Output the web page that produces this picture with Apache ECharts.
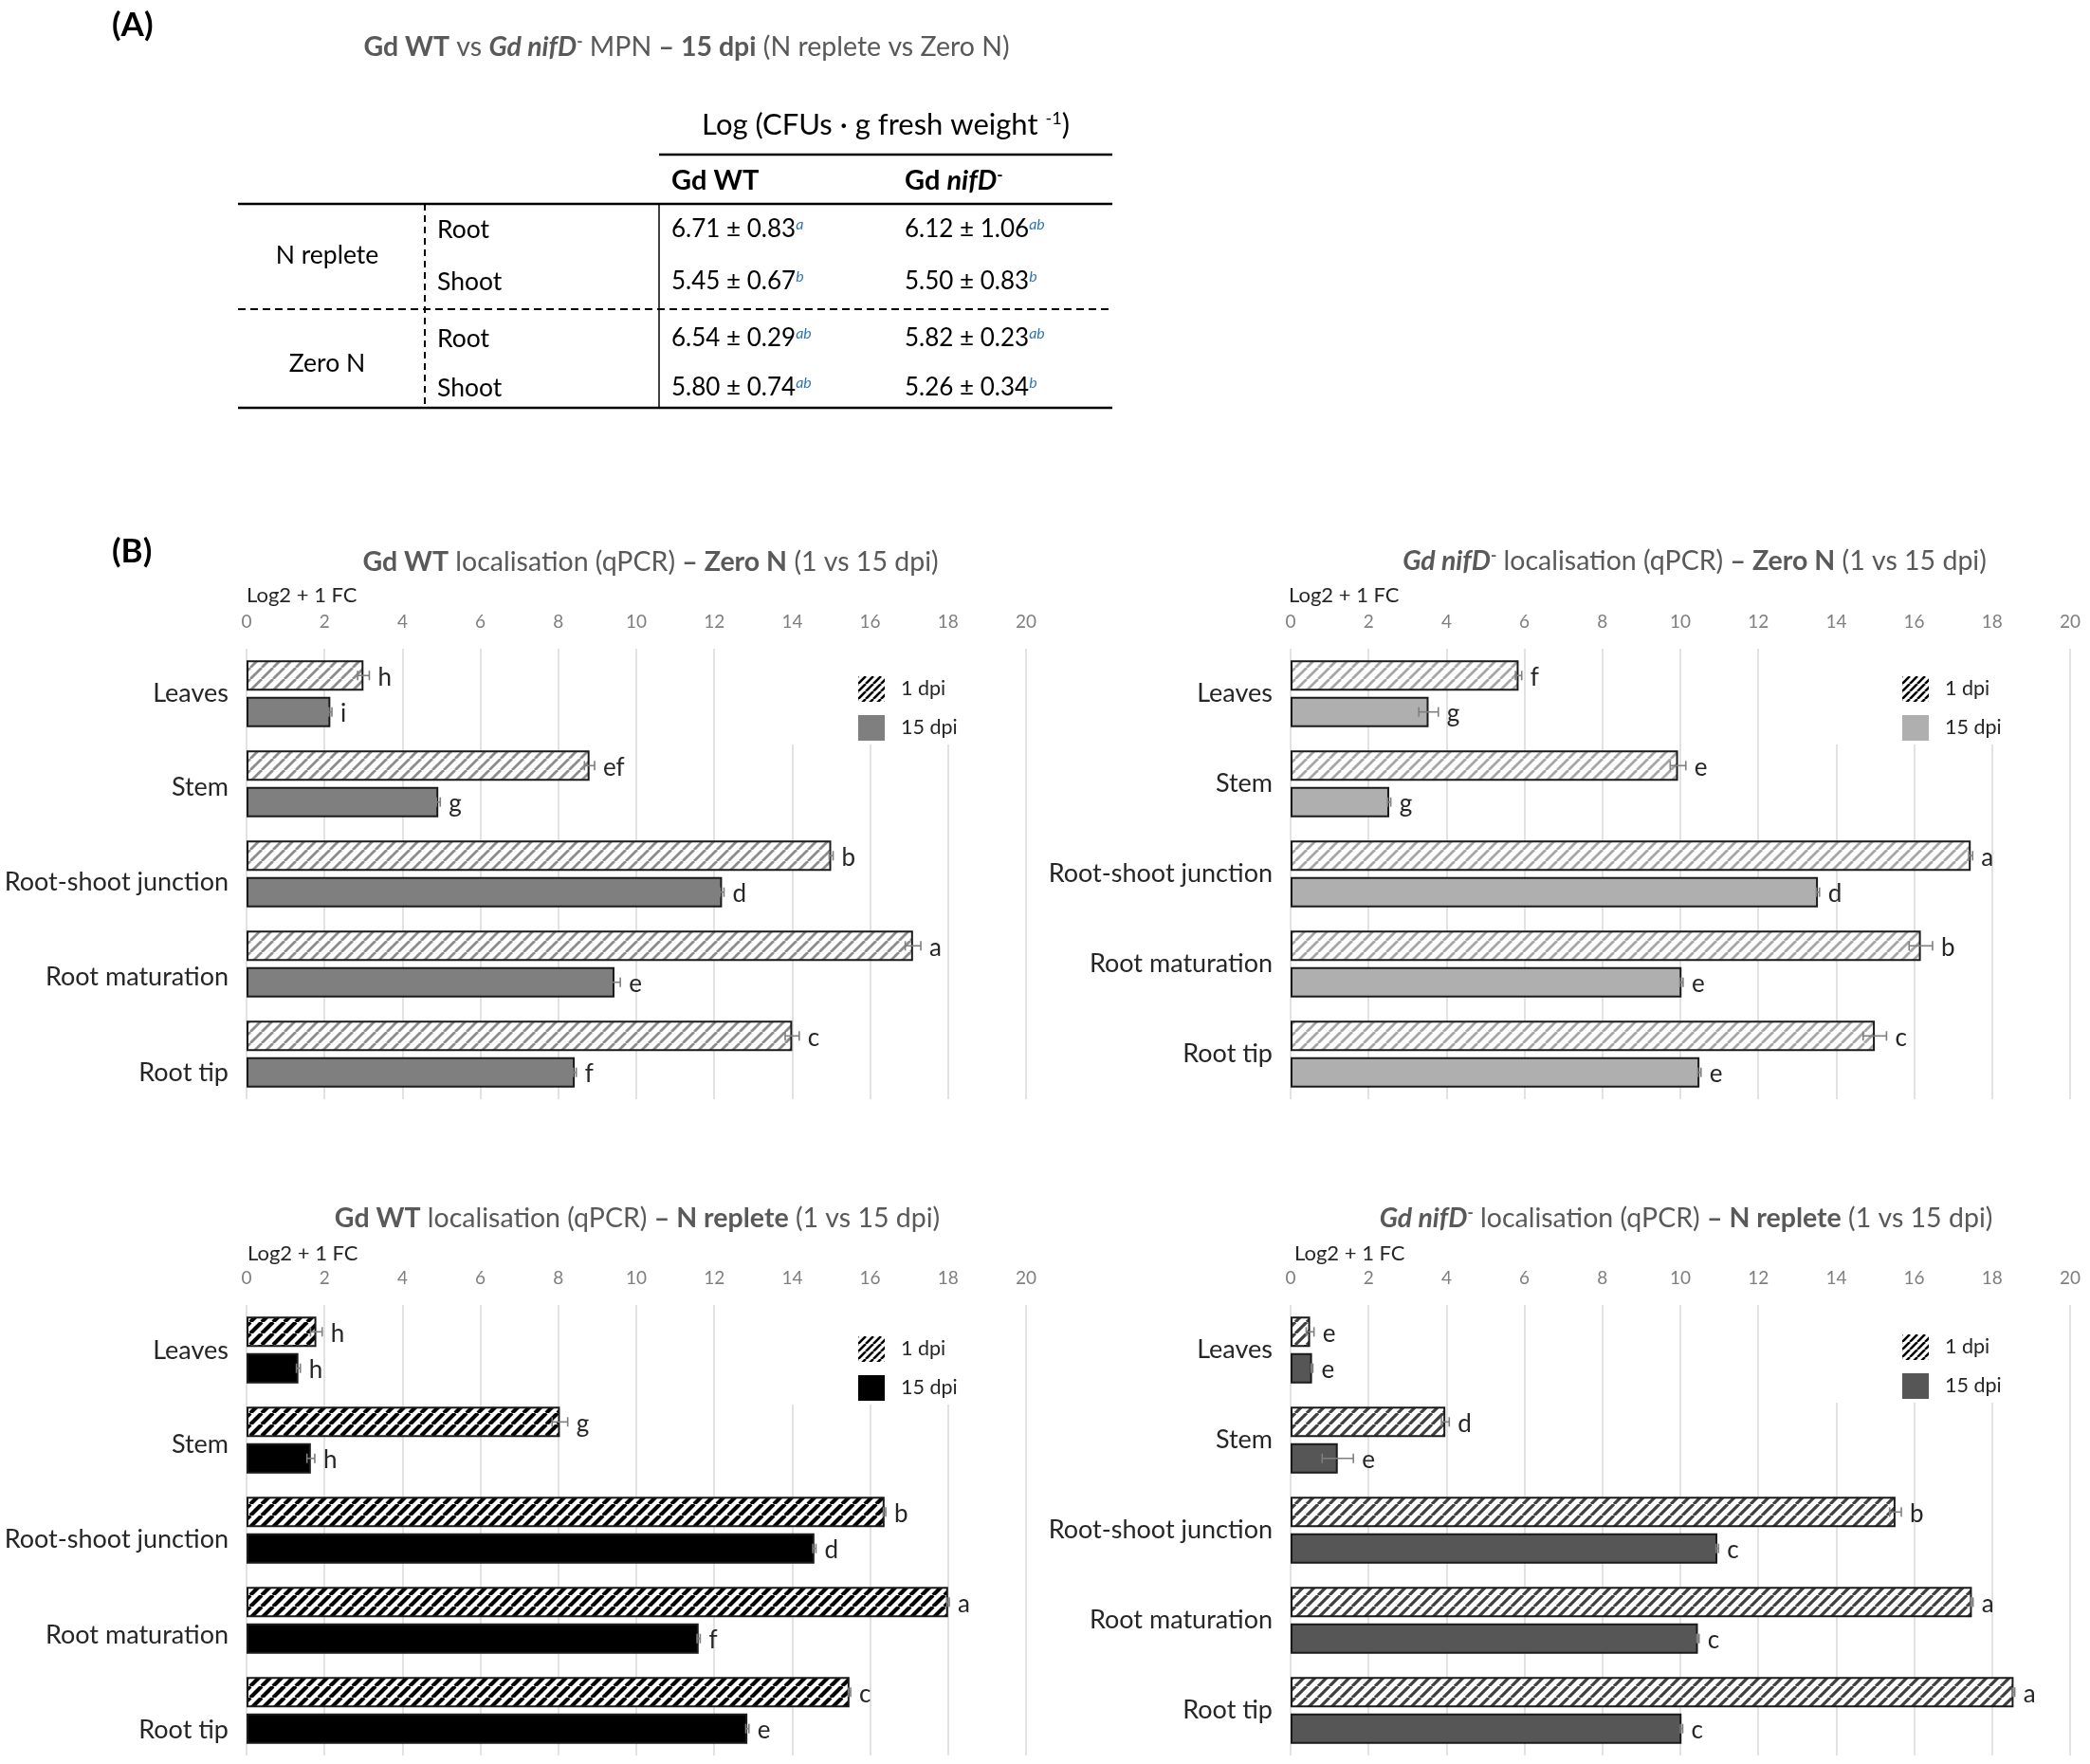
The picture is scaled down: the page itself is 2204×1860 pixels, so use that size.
<!DOCTYPE html>
<html>
<head>
<meta charset="utf-8">
<script src="https://cdn.jsdelivr.net/npm/echarts@6/dist/echarts.min.js"></script>
<style>
html, body { margin: 0; padding: 0; background: #fff; }
#page { position: relative; width: 2204px; height: 1860px; }
.box { position: absolute; }
</style>
</head>
<body>
<div id="page">
  <div id="tableA" class="box" style="left:0;top:0;width:2204px;height:560px"></div>
  <div id="zeroWt" class="box" style="left:0;top:560px;width:1102px;height:640px"></div>
  <div id="zeroNif" class="box" style="left:1102px;top:560px;width:1102px;height:640px"></div>
  <div id="replWt" class="box" style="left:0;top:1250px;width:1102px;height:610px"></div>
  <div id="replNif" class="box" style="left:1102px;top:1250px;width:1102px;height:610px"></div>
</div>
<script>
"use strict";

var FONT = 'Lato, "Noto Sans", sans-serif';

// (A) MPN at 15 dpi, Log (CFUs . g fresh weight -1)
var mpnConditions = ['N replete', 'Zero N'];
var mpnTissues = ['Root', 'Shoot', 'Root', 'Shoot'];
var wtMean = [6.71, 5.45, 6.54, 5.80];
var wtSd = [0.83, 0.67, 0.29, 0.74];
var wtSig = ['a', 'b', 'ab', 'ab'];
var nifMean = [6.12, 5.50, 5.82, 5.26];
var nifSd = [1.06, 0.83, 0.23, 0.34];
var nifSig = ['ab', 'b', 'ab', 'b'];

// (B) qPCR localisation, Log2 + 1 FC
var tissues = ['Leaves', 'Stem', 'Root-shoot junction', 'Root maturation', 'Root tip'];
var fcMin = 0, fcMax = 20, fcStep = 2;

var wtZero1 = [3.0, 8.8, 15.0, 17.1, 14.0];
var wtZero1Err = [0.15, 0.13, 0.05, 0.2, 0.18];
var wtZero1Sig = ['h', 'ef', 'b', 'a', 'c'];
var wtZero15 = [2.15, 4.92, 12.2, 9.44, 8.42];
var wtZero15Err = [0.04, 0.05, 0.05, 0.15, 0.04];
var wtZero15Sig = ['i', 'g', 'd', 'e', 'f'];

var nifZero1 = [5.85, 9.94, 17.45, 16.17, 14.99];
var nifZero1Err = [0.08, 0.2, 0.05, 0.3, 0.3];
var nifZero1Sig = ['f', 'e', 'a', 'b', 'c'];
var nifZero15 = [3.54, 2.53, 13.53, 10.03, 10.49];
var nifZero15Err = [0.25, 0.04, 0.04, 0.04, 0.04];
var nifZero15Sig = ['g', 'g', 'd', 'e', 'e'];

var wtRepl1 = [1.79, 8.04, 16.37, 18.0, 15.47];
var wtRepl1Err = [0.15, 0.2, 0.03, 0.03, 0.03];
var wtRepl1Sig = ['h', 'g', 'b', 'a', 'c'];
var wtRepl15 = [1.33, 1.65, 14.57, 11.6, 12.85];
var wtRepl15Err = [0.05, 0.1, 0.04, 0.04, 0.04];
var wtRepl15Sig = ['h', 'h', 'd', 'f', 'e'];

var nifRepl1 = [0.5, 3.97, 15.52, 17.48, 18.55];
var nifRepl1Err = [0.1, 0.1, 0.15, 0.03, 0.03];
var nifRepl1Sig = ['e', 'd', 'b', 'a', 'a'];
var nifRepl15 = [0.55, 1.21, 10.95, 10.45, 10.03];
var nifRepl15Err = [0.02, 0.4, 0.03, 0.03, 0.03];
var nifRepl15Sig = ['e', 'e', 'c', 'c', 'c'];

// ---------- table (A) ----------
function tx(x, y, text, size, opt) {
    opt = opt || {};
    return {
        type: 'text', x: x, y: y, silent: true,
        style: {
            text: text, fontSize: size, fontFamily: FONT,
            fontWeight: opt.weight || 'normal', fontStyle: opt.style || 'normal',
            fill: opt.fill || '#000', align: opt.align || 'left', verticalAlign: 'middle',
            rich: opt.rich
        }
    };
}
function ln(x1, y1, x2, y2, w, dash) {
    return {
        type: 'line', silent: true,
        shape: { x1: x1, y1: y1, x2: x2, y2: y2 },
        style: { stroke: '#000', lineWidth: w, lineDash: dash || null }
    };
}

var cellRich = {
    v: { fontSize: 26, fontFamily: FONT, fill: '#000' },
    s: { fontSize: 16, fontFamily: FONT, fontStyle: 'italic', fill: '#2e75b6', verticalAlign: 'top' }
};
var headRich = {
    b: { fontSize: 29, fontFamily: FONT, fontWeight: 'bold', fill: '#000' },
    bi: { fontSize: 29, fontFamily: FONT, fontWeight: 'bold', fontStyle: 'italic', fill: '#000' },
    sup: { fontSize: 17, fontFamily: FONT, fontWeight: 'bold', fill: '#000', verticalAlign: 'top' },
    n: { fontSize: 31, fontFamily: FONT, fill: '#000' },
    ns: { fontSize: 18, fontFamily: FONT, fill: '#000', verticalAlign: 'top' }
};
function grayRich(size) {
    return {
        b: { fontSize: size, fontFamily: FONT, fontWeight: 'bold', fill: '#595959' },
        bi: { fontSize: size, fontFamily: FONT, fontWeight: 'bold', fontStyle: 'italic', fill: '#595959' },
        sup: { fontSize: Math.round(size * 0.58), fontFamily: FONT, fontWeight: 'bold', fill: '#595959', verticalAlign: 'top' },
        n: { fontSize: size, fontFamily: FONT, fill: '#595959' }
    };
}

var rowY = [242, 297, 357, 409];
var tableEls = [
    tx(118, 27, '(A)', 35, { weight: 'bold' }),
    tx(724, 50, '{b|Gd WT} {n|vs} {bi|Gd nifD}{sup|-} {n|MPN} {b|– 15 dpi} {n|(N replete vs Zero N)}', 28.5, { align: 'center', rich: grayRich(28.5), fill: '#595959' }),
    tx(934, 132, '{n|Log (CFUs · g fresh weight }{ns|-1}{n|)}', 31, { align: 'center', rich: headRich }),
    ln(695, 163, 1173, 163, 2.5),
    tx(708, 191, '{b|Gd WT}', 29, { rich: headRich }),
    tx(954, 191, '{b|Gd }{bi|nifD}{sup|-}', 29, { rich: headRich }),
    ln(251, 215, 1173, 215, 2.5),
    ln(251, 326, 1173, 326, 2, [8, 5]),
    ln(251, 430, 1173, 430, 2.5),
    ln(448, 215, 448, 430, 2, [7, 5]),
    ln(695, 215, 695, 430, 1.5)
];
mpnConditions.forEach(function (c, k) {
    tableEls.push(tx(345, (rowY[2 * k] + rowY[2 * k + 1]) / 2, c, 26.5, { align: 'center' }));
});
mpnTissues.forEach(function (t, i) {
    tableEls.push(tx(461, rowY[i], t, 26.5));
    tableEls.push(tx(708, rowY[i], '{v|' + wtMean[i].toFixed(2) + ' ± ' + wtSd[i].toFixed(2) + '}{s|' + wtSig[i] + '}', 26, { rich: cellRich }));
    tableEls.push(tx(954, rowY[i], '{v|' + nifMean[i].toFixed(2) + ' ± ' + nifSd[i].toFixed(2) + '}{s|' + nifSig[i] + '}', 26, { rich: cellRich }));
});
var tableChart = echarts.init(document.getElementById('tableA'));
tableChart.setOption({ animation: false, graphic: tableEls });

// ---------- charts (B) ----------
function hatch(color, width, period) {
    var c = document.createElement('canvas');
    c.width = period; c.height = period;
    var g = c.getContext('2d');
    g.fillStyle = '#fff';
    g.fillRect(0, 0, period, period);
    g.strokeStyle = color;
    g.lineWidth = width;
    g.beginPath();
    [-period, 0, period].forEach(function (k) {
        g.moveTo(k, period);
        g.lineTo(k + period, 0);
    });
    g.stroke();
    return { image: c, repeat: 'repeat' };
}

var BAR_W = 32, HALF = 19.2;
var titleRich = grayRich(28.5);

function whiskers(vals, errs, sig, shift) {
    return {
        type: 'custom', z: 5, silent: true, clip: false,
        data: vals.map(function (v, i) { return [v, i]; }),
        encode: { x: 0, y: 1 },
        renderItem: function (params, api) {
            var i = params.dataIndex;
            var v = api.value(0), e = errs[i];
            var y = api.coord([v, i])[1] + shift;
            var lo = api.coord([v - e, i])[0], hi = api.coord([v + e, i])[0];
            var st = { stroke: '#7f7f7f', lineWidth: 1.6 };
            return {
                type: 'group', children: [
                    { type: 'line', shape: { x1: lo, y1: y, x2: hi, y2: y }, style: st },
                    { type: 'line', shape: { x1: lo, y1: y - 5, x2: lo, y2: y + 5 }, style: st },
                    { type: 'line', shape: { x1: hi, y1: y - 5, x2: hi, y2: y + 5 }, style: st },
                    {
                        type: 'text', x: hi + 9, y: y + 2,
                        style: { text: sig[i], fontSize: 26, fontFamily: FONT, fill: '#262626', align: 'left', verticalAlign: 'middle' }
                    }
                ]
            };
        }
    };
}

function localChart(id, o) {
    var chart = echarts.init(document.getElementById(id));
    var rich = {};
    o.labelShift.forEach(function (s, i) {
        rich['c' + i] = {
            fontSize: 27, fontFamily: FONT, color: '#262626',
            padding: s >= 0 ? [2 * s, 0, 0, 0] : [0, 0, -2 * s, 0]
        };
    });
    var graphic = [
        {
            type: 'text', x: o.titleX, y: o.titleY, silent: true,
            style: { text: o.title, rich: titleRich, fontSize: 28.5, fontFamily: FONT, fill: '#595959', align: 'center', verticalAlign: 'middle' }
        },
        {
            type: 'text', x: o.unitX, y: o.unitY, silent: true,
            style: { text: 'Log2 + 1 FC', fontSize: 22, fontFamily: FONT, fill: '#262626', align: 'left', verticalAlign: 'middle' }
        }
    ];
    if (o.panel) {
        graphic.push({
            type: 'text', x: 118, y: 22, silent: true,
            style: { text: o.panel, fontSize: 35, fontWeight: 'bold', fontFamily: FONT, fill: '#000', verticalAlign: 'middle' }
        });
    }
    chart.setOption({
        animation: false,
        graphic: graphic,
        grid: { left: o.gridLeft, top: o.gridTop, width: 822, height: 475, containLabel: false, outerBoundsMode: 'none' },
        legend: {
            orient: 'vertical', left: o.gridLeft + 566, top: o.gridTop,
            padding: [o.legendPad, 70, 4, 79],
            backgroundColor: '#fff', selectedMode: false,
            icon: 'rect', itemWidth: 28, itemHeight: 27, itemGap: 14,
            textStyle: { fontSize: 21.5, fontFamily: FONT, color: '#262626', padding: [0, 0, 0, 12] },
            data: [
                { name: '1 dpi', itemStyle: { color: hatch('#000', 2.6, 8), borderWidth: 0 } },
                { name: '15 dpi', itemStyle: { color: o.solid, borderWidth: 0 } }
            ]
        },
        xAxis: {
            type: 'value', position: 'top', min: fcMin, max: fcMax, interval: fcStep,
            axisLine: { show: false }, axisTick: { show: false },
            axisLabel: { color: '#7f7f7f', fontSize: 19, fontFamily: FONT, margin: 19 },
            splitLine: { lineStyle: { color: '#d9d9d9', width: 1.5 } }
        },
        yAxis: {
            type: 'category', data: tissues, inverse: true,
            axisLine: { show: false }, axisTick: { show: false }, splitLine: { show: false },
            axisLabel: {
                margin: 19, fontSize: 27, fontFamily: FONT, color: '#262626',
                formatter: function (v, i) { return '{c' + i + '|' + v + '}'; },
                rich: rich
            }
        },
        series: [
            {
                name: '1 dpi', type: 'bar', data: o.d1, barWidth: BAR_W, barGap: '20%',
                emphasis: { disabled: true },
                itemStyle: { color: hatch(o.stripe, o.stripeW, 12), borderColor: '#1a1a1a', borderWidth: 2 }
            },
            {
                name: '15 dpi', type: 'bar', data: o.d15, barWidth: BAR_W, barGap: '20%',
                emphasis: { disabled: true },
                itemStyle: { color: o.solid, borderColor: '#1a1a1a', borderWidth: 2 }
            },
            whiskers(o.d1, o.e1, o.s1, -HALF),
            whiskers(o.d15, o.e15, o.s15, HALF)
        ]
    });
    return chart;
}

localChart('zeroWt', {
    panel: '(B)',
    title: '{b|Gd WT} {n|localisation (qPCR)} {b|– Zero N} {n|(1 vs 15 dpi)}',
    titleX: 686, titleY: 33, unitX: 260, unitY: 68,
    gridLeft: 260, gridTop: 124, legendPad: 29,
    labelShift: [0, 4, 9, 14, 20],
    stripe: '#8c8c8c', stripeW: 2.8, solid: '#7f7f7f',
    d1: wtZero1, e1: wtZero1Err, s1: wtZero1Sig,
    d15: wtZero15, e15: wtZero15Err, s15: wtZero15Sig
});

localChart('zeroNif', {
    title: '{bi|Gd nifD}{sup|-} {n|localisation (qPCR)} {b|– Zero N} {n|(1 vs 15 dpi)}',
    titleX: 685, titleY: 32, unitX: 257, unitY: 68,
    gridLeft: 259, gridTop: 124, legendPad: 29,
    labelShift: [0, 0, 0, 0, 0],
    stripe: '#a6a6a6', stripeW: 2.8, solid: '#afafaf',
    d1: nifZero1, e1: nifZero1Err, s1: nifZero1Sig,
    d15: nifZero15, e15: nifZero15Err, s15: nifZero15Sig
});

localChart('replWt', {
    title: '{b|Gd WT} {n|localisation (qPCR)} {b|– N replete} {n|(1 vs 15 dpi)}',
    titleX: 672, titleY: 35, unitX: 261, unitY: 72,
    gridLeft: 260, gridTop: 126, legendPad: 33,
    labelShift: [1, 5, 10, 16, 21],
    stripe: '#000', stripeW: 4.2, solid: '#000',
    d1: wtRepl1, e1: wtRepl1Err, s1: wtRepl1Sig,
    d15: wtRepl15, e15: wtRepl15Err, s15: wtRepl15Sig
});

localChart('replNif', {
    title: '{bi|Gd nifD}{sup|-} {n|localisation (qPCR)} {b|– N replete} {n|(1 vs 15 dpi)}',
    titleX: 676, titleY: 35, unitX: 263, unitY: 72,
    gridLeft: 259, gridTop: 126, legendPad: 31,
    labelShift: [0, 0, 0, 0, 0],
    stripe: '#3f3f3f', stripeW: 3.2, solid: '#565656',
    d1: nifRepl1, e1: nifRepl1Err, s1: nifRepl1Sig,
    d15: nifRepl15, e15: nifRepl15Err, s15: nifRepl15Sig
});
</script>
</body>
</html>
